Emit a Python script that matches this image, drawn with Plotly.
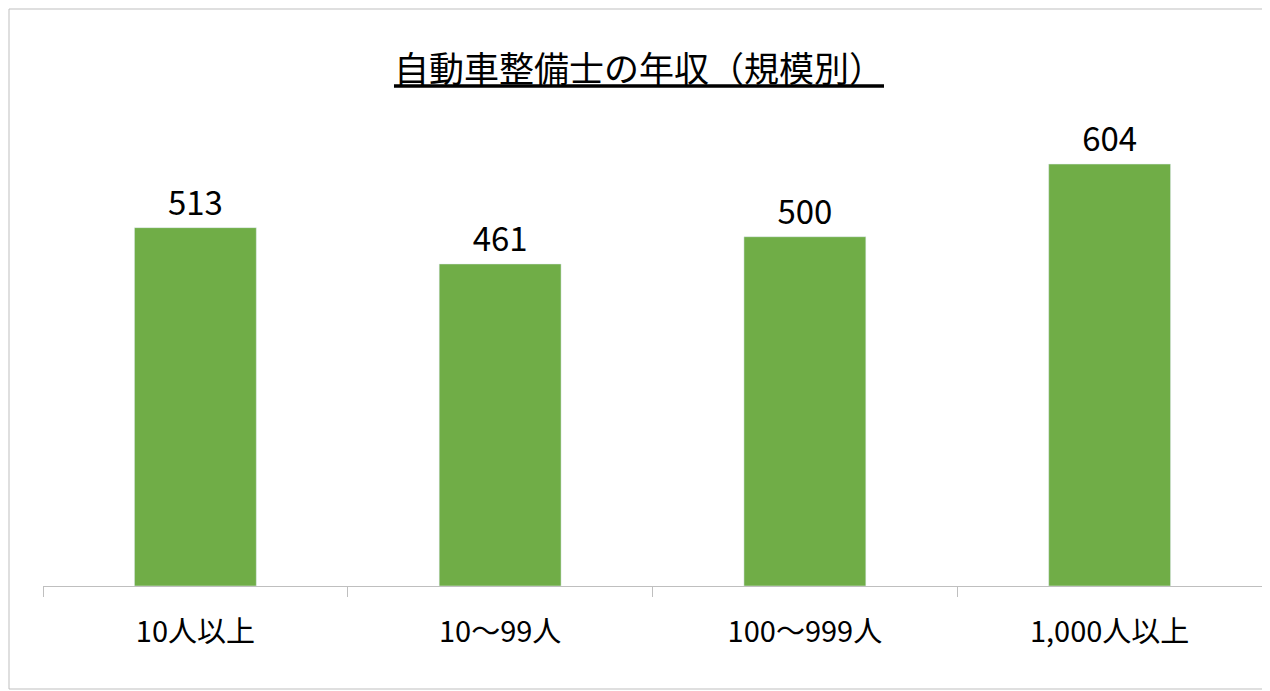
import plotly.graph_objects as go

categories = ["10人以上", "10～99人", "100～999人", "1,000人以上"]
values = [513, 461, 500, 604]

W, H = 1262, 683
l, r, t, b = 35, 8, 89, 105
pw, ph = W - l - r, H - t - b

fig = go.Figure(go.Bar(
    x=categories, y=values, marker_color="#70AD47",
    text=values, textposition="outside", cliponaxis=False,
    textfont=dict(size=33, color="black"),
))
fig.update_layout(
    width=W, height=H, margin=dict(l=l, r=r, t=t, b=b),
    paper_bgcolor="white", plot_bgcolor="white",
    font=dict(family="Noto Sans CJK JP", color="black"),
    bargap=0.6, showlegend=False,
    title=dict(text="<u>自動車整備士の年収（規模別）</u>", x=0.5, xanchor="center",
               y=1 - 62 / H, yanchor="middle", font=dict(size=35)),
    shapes=[dict(type="rect", xref="paper", yref="paper",
                 x0=-(l - 1) / pw, x1=1 + (r - 2) / pw,
                 y0=-(b - 2) / ph, y1=1 + (t - 1) / ph,
                 line=dict(color="#BFBFBF", width=1))],
)
fig.update_xaxes(showline=True, linecolor="#BFBFBF", ticks="outside", tickson="boundaries",
                 ticklen=10, tickcolor="#BFBFBF", tickfont=dict(size=29), ticklabelstandoff=20)
fig.update_yaxes(range=[0, 700], visible=False)
fig.write_html("out.html")
